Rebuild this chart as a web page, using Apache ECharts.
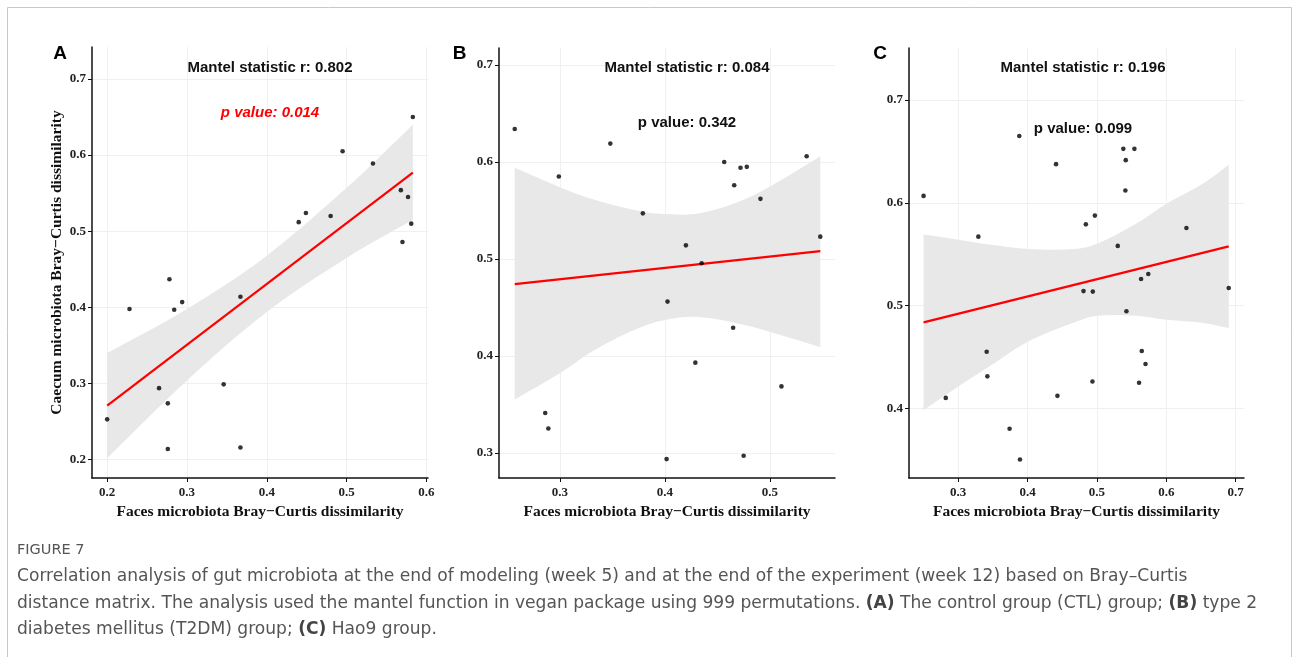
<!DOCTYPE html>
<html><head><meta charset="utf-8">
<script src="https://cdn.jsdelivr.net/npm/echarts@6/dist/echarts.min.js"></script>
<style>html,body{margin:0;padding:0;background:#fff}#c{width:1293px;height:657px}</style>
</head><body><div id="c"></div>
<script>
// ---------- Panel A (CTL) ----------
const aX = [0.200,0.228,0.265,0.276,0.276,0.278,0.284,0.294,0.346,0.367,0.367,0.440,0.449,0.480,0.495,0.533,0.568,0.577,0.570,0.581,0.583];
const aY = [0.253,0.398,0.294,0.274,0.214,0.437,0.397,0.407,0.299,0.216,0.414,0.512,0.524,0.520,0.605,0.589,0.554,0.545,0.486,0.510,0.650];
const aLineX = [0.200,0.583];
const aLineY = [0.271,0.577];
const aBandX = [0.200,0.300,0.400,0.500,0.583];
const aBandUpper = [0.340,0.398,0.468,0.557,0.640];
const aBandLower = [0.202,0.304,0.394,0.465,0.515];
const aXTicks = [0.2,0.3,0.4,0.5,0.6];
const aYTicks = [0.2,0.3,0.4,0.5,0.6,0.7];

// ---------- Panel B (T2DM) ----------
const bX = [0.257,0.348,0.299,0.379,0.4565,0.472,0.478,0.466,0.491,0.535,0.548,0.420,0.435,0.4025,0.465,0.429,0.511,0.286,0.289,0.4016,0.475];
const bY = [0.634,0.619,0.585,0.547,0.600,0.594,0.595,0.576,0.562,0.606,0.523,0.514,0.4955,0.456,0.429,0.393,0.3685,0.341,0.325,0.2935,0.297];
const bLineX = [0.257,0.548];
const bLineY = [0.474,0.508];
const bBandX = [0.257,0.300,0.333,0.378,0.405,0.433,0.475,0.510,0.548];
const bBandUpper = [0.594,0.574,0.561,0.549,0.546,0.547,0.561,0.581,0.606];
const bBandLower = [0.355,0.382,0.406,0.430,0.438,0.440,0.432,0.4215,0.409];
const bXTicks = [0.3,0.4,0.5];
const bYTicks = [0.3,0.4,0.5,0.6,0.7];

// ---------- Panel C (Hao9) ----------
const cX = [0.250,0.282,0.329,0.341,0.342,0.374,0.389,0.388,0.441,0.443,0.4806,0.484,0.4935,0.494,0.497,0.530,0.538,0.554,0.5415,0.541,0.5425,0.5636,0.574,0.5646,0.570,0.5607,0.629,0.690];
const cY = [0.6067,0.410,0.567,0.455,0.431,0.380,0.350,0.665,0.6376,0.412,0.514,0.579,0.426,0.5135,0.5875,0.558,0.6525,0.6525,0.6415,0.612,0.4943,0.5258,0.5307,0.4556,0.443,0.4247,0.5755,0.517];
const cLineX = [0.250,0.690];
const cLineY = [0.4835,0.5576];
const cBandX = [0.250,0.300,0.348,0.401,0.469,0.500,0.557,0.600,0.653,0.690];
const cBandUpper = [0.569,0.564,0.559,0.555,0.555,0.560,0.5797,0.599,0.6187,0.637];
const cBandLower = [0.398,0.421,0.442,0.465,0.484,0.490,0.490,0.486,0.483,0.478];
const cXTicks = [0.3,0.4,0.5,0.6,0.7];
const cYTicks = [0.4,0.5,0.6,0.7];

const xTitle = 'Faces microbiota Bray\u2212Curtis dissimilarity';
const yTitle = 'Caecum microbiota Bray\u2212Curtis dissimilarity';

const panels = [
  {x:aX,y:aY,lx:aLineX,ly:aLineY,bx:aBandX,bu:aBandUpper,bl:aBandLower,xt:aXTicks,yt:aYTicks,
   grid:{left:92,top:47,width:336,height:431}, xr:[0.181,0.602], yr:[0.176,0.742], yName:yTitle},
  {x:bX,y:bY,lx:bLineX,ly:bLineY,bx:bBandX,bu:bBandUpper,bl:bBandLower,xt:bXTicks,yt:bYTicks,
   grid:{left:499,top:48,width:336,height:430}, xr:[0.242,0.562], yr:[0.274,0.7176], yName:''},
  {x:cX,y:cY,lx:cLineX,ly:cLineY,bx:cBandX,bu:cBandUpper,bl:cBandLower,xt:cXTicks,yt:cYTicks,
   grid:{left:909,top:48,width:335,height:430}, xr:[0.229,0.712], yr:[0.332,0.7507], yName:''}
];

const serifBold = {fontFamily:'Liberation Serif', fontWeight:'bold'};
const grids=[], xAxes=[], yAxes=[], series=[];
panels.forEach((p,i)=>{
  grids.push(p.grid);
  const common = {
    gridIndex:i, type:'value',
    axisLine:{show:true,onZero:false,lineStyle:{color:'#111',width:1.5}},
    axisTick:{show:true,length:4,lineStyle:{color:'#111',width:1}},
    splitLine:{show:true,lineStyle:{color:'#f0f0f0',width:1}}
  };
  xAxes.push(Object.assign({}, common, {
    min:p.xr[0], max:p.xr[1],
    axisTick:Object.assign({}, common.axisTick, {customValues:p.xt}),
    axisLabel:Object.assign({customValues:p.xt, margin:8, fontSize:13, color:'#222', formatter:v=>v.toFixed(1)}, serifBold),
    name:xTitle, nameLocation:'middle', nameGap:26,
    nameTextStyle:Object.assign({fontSize:15.5,color:'#111'}, serifBold)
  }));
  yAxes.push(Object.assign({}, common, {
    min:p.yr[0], max:p.yr[1],
    axisTick:Object.assign({}, common.axisTick, {customValues:p.yt}),
    axisLabel:Object.assign({customValues:p.yt, margin:6, fontSize:13, color:'#222', formatter:v=>v.toFixed(1)}, serifBold),
    name:p.yName, nameLocation:'middle', nameGap:27,
    nameTextStyle:Object.assign({fontSize:15.5,color:'#111'}, serifBold)
  }));
  // confidence band drawn as one smooth polygon through the read upper/lower edge points
  series.push({type:'custom', xAxisIndex:i, yAxisIndex:i, silent:true, z:1,
    data:p.bx.map((x,k)=>[x,p.bl[k],p.bu[k]]),
    encode:{x:0,y:[1,2]},
    renderItem:function(params, api){
      if (params.dataIndex !== 0) return null;
      const up = p.bx.map((x,k)=>api.coord([x,p.bu[k]]));
      const lo = p.bx.map((x,k)=>api.coord([x,p.bl[k]])).reverse();
      const pts = [up[0]].concat(up).concat([up[up.length-1]]).concat([lo[0]]).concat(lo).concat([lo[lo.length-1]]);
      return {type:'polygon', shape:{points:pts, smooth:0.35}, style:{fill:'#e8e8e8', stroke:null}};
    }
  });
  series.push({type:'line', xAxisIndex:i, yAxisIndex:i, symbol:'none', silent:true,
    lineStyle:{color:'#ff0000',width:2.2}, data:p.lx.map((x,k)=>[x,p.ly[k]]), z:3});
  series.push({type:'scatter', xAxisIndex:i, yAxisIndex:i, symbolSize:4.6, silent:true,
    itemStyle:{color:'#000'}, data:p.x.map((x,k)=>[x,p.y[k]]), z:4});
});

const sansBold = 'bold 15px "Liberation Sans", Arial, sans-serif';
function txt(x,y,t,font,fill,align){
  return {type:'text', silent:true, z:50, style:{x:x,y:y,text:t,font:font,fill:fill||'#111',textAlign:align||'center',textVerticalAlign:'middle'}};
}
const capFont = '17.1px "DejaVu Sans", sans-serif';
const capRich = {
  n:{font:capFont, fill:'#555'},
  b:{font:'bold 17.1px "DejaVu Sans", sans-serif', fill:'#444'}
};
function cap(y, t){
  return {type:'text', silent:true, z:50, style:{x:17,y:y,text:t,rich:capRich,textVerticalAlign:'middle',textAlign:'left'}};
}
const graphic = [
  {type:'rect', silent:true, z:50, shape:{x:7.5,y:7.5,width:1284,height:700}, style:{fill:'none',stroke:'#c8c8c8',lineWidth:1}},
  txt(60,54,'A','bold 19px "Liberation Sans", Arial, sans-serif','#000'),
  txt(459.5,54,'B','bold 19px "Liberation Sans", Arial, sans-serif','#000'),
  txt(880,54,'C','bold 19px "Liberation Sans", Arial, sans-serif','#000'),
  txt(270,68,'Mantel statistic r: 0.802',sansBold),
  txt(270,113,'p value: 0.014','italic bold 15px "Liberation Sans", Arial, sans-serif','#ff0000'),
  txt(687,68,'Mantel statistic r: 0.084',sansBold),
  txt(687,123,'p value: 0.342',sansBold),
  txt(1083,68,'Mantel statistic r: 0.196',sansBold),
  txt(1083,129,'p value: 0.099',sansBold),
  {type:'text', silent:true, z:50, style:{x:17,y:550,text:'FIGURE 7',font:'14.5px "DejaVu Sans", sans-serif',fill:'#555',textVerticalAlign:'middle'}},
  cap(577,'{n|Correlation analysis of gut microbiota at the end of modeling (week 5) and at the end of the experiment (week 12) based on Bray\u2013Curtis}'),
  cap(604,'{n|distance matrix. The analysis used the mantel function in vegan package using 999 permutations. }{b|(A)}{n| The control group (CTL) group; }{b|(B)}{n| type 2}'),
  cap(630,'{n|diabetes mellitus (T2DM) group; }{b|(C)}{n| Hao9 group.}')
];

const chart = echarts.init(document.getElementById('c'), null, {renderer:'canvas'});
chart.setOption({
  animation:false, backgroundColor:'#fff',
  grid:grids, xAxis:xAxes, yAxis:yAxes, series:series, graphic:graphic
});
</script></body></html>
